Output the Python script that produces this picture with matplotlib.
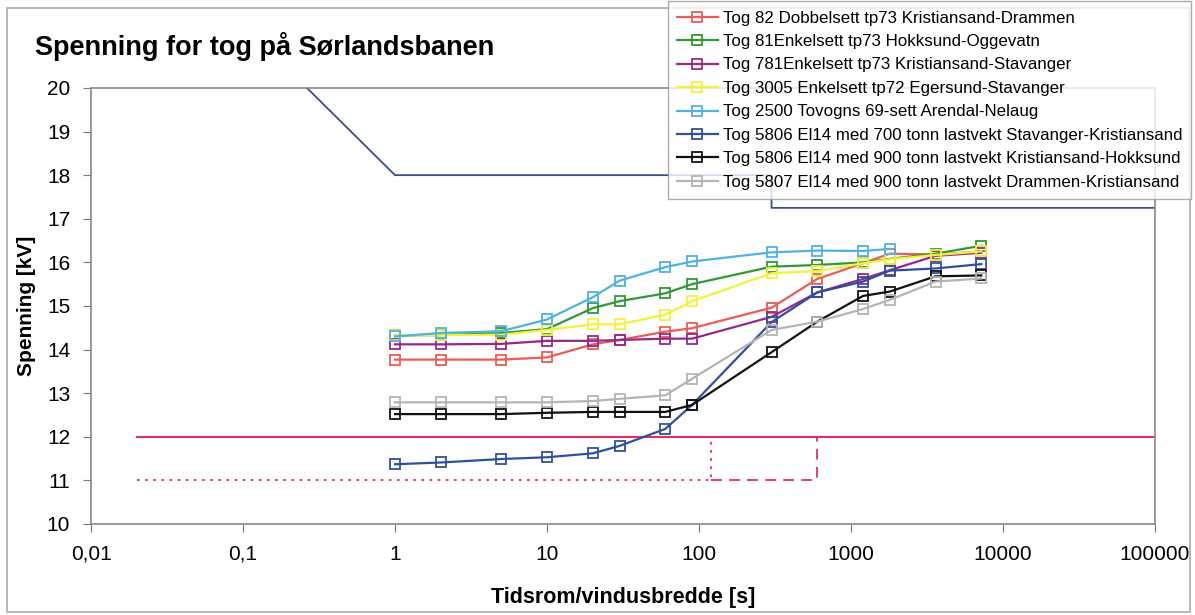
import matplotlib
matplotlib.use("Agg")
import matplotlib.pyplot as plt
from matplotlib.patches import Rectangle

plt.rcParams['font.family'] = ['Liberation Sans', 'DejaVu Sans']

# window widths (s)
tid = [1, 2, 5, 10, 20, 30, 60, 90, 300, 600, 1200, 1800, 3600, 7200]
tid_2500 = tid[:12]

tog82 = [13.77, 13.77, 13.77, 13.82, 14.12, 14.22, 14.41, 14.49, 14.96, 15.62, 15.98, 16.2, 16.18, 16.25]
tog81 = [14.33, 14.33, 14.38, 14.47, 14.95, 15.11, 15.29, 15.5, 15.9, 15.94, 16.0, 16.08, 16.2, 16.38]
tog781 = [14.12, 14.12, 14.13, 14.2, 14.2, 14.22, 14.25, 14.25, 14.75, 15.31, 15.62, 15.82, 16.15, 16.22]
tog3005 = [14.33, 14.33, 14.34, 14.45, 14.58, 14.58, 14.8, 15.11, 15.75, 15.8, 15.98, 16.07, 16.17, 16.25]
tog2500 = [14.3, 14.38, 14.42, 14.69, 15.2, 15.58, 15.89, 16.02, 16.23, 16.27, 16.26, 16.31]
tog5806_700 = [11.37, 11.41, 11.49, 11.53, 11.62, 11.79, 12.18, 12.73, 14.63, 15.31, 15.56, 15.81, 15.86, 15.96]
tog5806_900 = [12.52, 12.52, 12.52, 12.55, 12.57, 12.57, 12.57, 12.73, 13.94, 14.64, 15.23, 15.33, 15.68, 15.7]
tog5807 = [12.79, 12.79, 12.79, 12.79, 12.82, 12.87, 12.95, 13.33, 14.45, 14.64, 14.93, 15.14, 15.56, 15.63]

# limit curves
grense_x = [0.1, 1, 300, 300, 100000]
grense_y = [21.45, 18, 18, 17.25, 17.25]
min_x = [0.02, 100000]
min_y = [12, 12]
dott_x = [0.02, 120, 120]
dott_y = [11, 11, 12]
dash_x = [120, 600, 600]
dash_y = [11, 11, 12]

xticks = [0.01, 0.1, 1, 10, 100, 1000, 10000, 100000]
xticklabels = ['0,01', '0,1', '1', '10', '100', '1000', '10000', '100000']

series = [
    (tid, tog82, '#ec5b55', 'Tog 82 Dobbelsett tp73 Kristiansand-Drammen'),
    (tid, tog81, '#2f9a35', 'Tog 81Enkelsett tp73 Hokksund-Oggevatn'),
    (tid, tog781, '#96288c', 'Tog 781Enkelsett tp73 Kristiansand-Stavanger'),
    (tid, tog3005, '#f2f23c', 'Tog 3005 Enkelsett tp72 Egersund-Stavanger'),
    (tid_2500, tog2500, '#4fb2e3', 'Tog 2500 Tovogns 69-sett Arendal-Nelaug'),
    (tid, tog5806_700, '#2e50a0', 'Tog 5806 El14 med 700 tonn lastvekt Stavanger-Kristiansand'),
    (tid, tog5806_900, '#111111', 'Tog 5806 El14 med 900 tonn lastvekt Kristiansand-Hokksund'),
    (tid, tog5807, '#b4b4b4', 'Tog 5807 El14 med 900 tonn lastvekt Drammen-Kristiansand'),
]

fig = plt.figure(figsize=(11.95, 6.15), dpi=100)
ax = fig.add_axes([0.0762, 0.148, 0.8903, 0.709])

ax.plot(grense_x, grense_y, color='#3d4b8e', lw=1.3)
ax.plot(min_x, min_y, color='#e0306a', lw=1.5)
ax.plot(dott_x, dott_y, color='#e0306a', lw=1.3, ls=(0, (1.5, 3)))
ax.plot(dash_x, dash_y, color='#e0306a', lw=1.3, ls=(0, (6, 4)))

handles = []
for xs, ys, col, lab in series:
    h, = ax.plot(xs, ys, color=col, lw=1.6, marker='s', markersize=7,
                 markerfacecolor='none', markeredgecolor=col, markeredgewidth=1.3,
                 label=lab)
    handles.append(h)

ax.set_xscale('log')
ax.set_xlim(0.01, 100000)
ax.set_ylim(10, 20)
ax.set_xticks(xticks)
ax.set_xticklabels(xticklabels)
ax.minorticks_off()
ax.set_yticks(range(10, 21))
ax.tick_params(labelsize=15, length=6, color='#777777', pad=9)
for s in ax.spines.values():
    s.set_color('#888888')
    s.set_linewidth(1.2)

ax.set_xlabel('Tidsrom/vindusbredde [s]', fontsize=15.5, fontweight='bold', labelpad=17)
ax.set_ylabel('Spenning [kV]', fontsize=15, fontweight='bold', labelpad=8)
fig.text(0.029, 0.925, 'Spenning for tog på Sørlandsbanen', fontsize=19.5,
         fontweight='bold', va='center')

leg = fig.legend(handles=handles, loc='upper right', bbox_to_anchor=(0.997, 0.998),
                 fontsize=12.2, frameon=True, fancybox=False, edgecolor='#999999',
                 handlelength=2.4, labelspacing=0.5, borderaxespad=0, handletextpad=0.3,
                 borderpad=0.55)
leg.get_frame().set_linewidth(1.0)

fig.patches.append(Rectangle((0.006, 0.005), 0.99, 0.982, transform=fig.transFigure,
                             fill=False, edgecolor='#aaaaaa', lw=1.2, zorder=-1))

fig.savefig('out.png', dpi=100)
